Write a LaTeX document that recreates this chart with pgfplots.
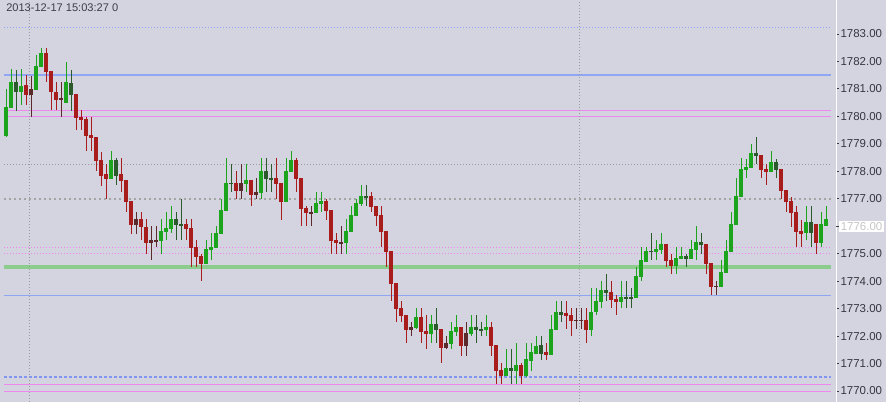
\documentclass[border=0pt]{standalone}
\usepackage{fontspec}
\setmainfont{Liberation Sans}
\usepackage{pgfplots}
\usepackage{pgfplotstable}
\pgfplotsset{compat=1.18}

\definecolor{bg}{HTML}{D4D4E0}
\definecolor{up}{HTML}{1CA51C}
\definecolor{dn}{HTML}{A81C1C}
\definecolor{upd}{HTML}{2B5B2B}
\definecolor{dnd}{HTML}{5C2A2A}
\definecolor{lvblue}{HTML}{8FA6F2}
\definecolor{lvpink}{HTML}{EE88EE}
\definecolor{lvgreen}{HTML}{8CCC8C}
\definecolor{lvgray}{HTML}{9A9A9A}
\definecolor{txt}{HTML}{3C3C46}

% n open high low close type (0 up, 1 down, 2 dark up, 3 dark down)
\pgfplotstableread{
n o h l c t
1 1779.29 1781.00 1779.26 1780.34 0
2 1780.30 1781.72 1780.30 1781.26 0
3 1780.90 1781.72 1780.23 1781.26 2
4 1780.90 1781.72 1780.42 1781.14 0
5 1781.14 1781.50 1780.42 1780.79 1
6 1781.00 1781.50 1779.99 1780.79 3
7 1780.97 1782.23 1780.97 1781.83 0
8 1781.81 1782.49 1781.81 1782.31 0
9 1782.31 1782.49 1781.26 1781.61 1
10 1781.65 1781.65 1780.23 1780.90 1
11 1780.92 1781.25 1780.23 1780.63 1
12 1780.66 1781.25 1779.99 1780.66 3
13 1780.50 1781.98 1780.50 1781.25 0
14 1780.79 1781.72 1780.23 1781.25 2
15 1780.81 1780.81 1779.50 1779.95 1
16 1779.98 1780.23 1779.50 1779.88 1
17 1779.90 1779.98 1778.74 1779.28 1
18 1779.32 1779.98 1778.74 1779.22 1
19 1779.25 1779.25 1778.01 1778.39 1
20 1778.41 1778.74 1777.50 1777.86 1
21 1777.90 1778.26 1776.99 1777.72 1
22 1777.72 1778.74 1777.72 1778.41 0
23 1777.86 1778.48 1777.50 1778.41 2
24 1777.90 1778.48 1777.25 1777.66 1
25 1777.68 1777.68 1776.52 1776.88 1
26 1776.92 1776.92 1775.75 1776.04 1
27 1776.26 1776.52 1775.75 1776.04 3
28 1776.26 1776.52 1775.50 1775.97 1
29 1776.00 1776.26 1774.99 1775.39 1
30 1775.50 1776.01 1774.77 1775.40 3
31 1775.49 1776.01 1775.24 1775.49 3
32 1775.46 1776.26 1774.99 1775.83 0
33 1775.79 1776.52 1775.50 1775.94 0
34 1775.90 1776.74 1775.75 1776.26 0
35 1776.04 1776.52 1775.50 1776.26 2
36 1776.07 1776.99 1775.50 1776.07 2
37 1776.08 1776.26 1775.50 1775.90 1
38 1775.94 1776.26 1774.51 1775.21 1
39 1775.24 1775.50 1774.51 1774.88 1
40 1774.92 1774.99 1774.00 1774.62 1
41 1774.62 1775.50 1774.62 1775.17 0
42 1775.13 1775.75 1774.77 1775.24 0
43 1775.21 1776.01 1775.21 1775.75 0
44 1775.72 1776.99 1775.72 1776.59 0
45 1776.55 1778.48 1776.55 1777.57 0
46 1777.56 1778.27 1777.25 1777.56 2
47 1777.57 1778.01 1776.99 1777.28 1
48 1777.57 1778.27 1776.99 1777.28 3
49 1777.54 1778.27 1777.25 1777.68 0
50 1777.68 1777.68 1776.74 1777.14 1
51 1777.25 1777.76 1776.99 1777.14 3
52 1777.21 1778.48 1776.99 1778.01 0
53 1777.72 1778.48 1777.25 1778.01 2
54 1777.74 1778.27 1777.25 1777.74 2
55 1777.76 1778.48 1776.99 1777.54 1
56 1777.57 1777.57 1776.26 1776.88 1
57 1776.88 1778.48 1776.88 1778.01 0
58 1777.97 1778.74 1777.97 1778.41 0
59 1778.41 1778.48 1777.25 1777.72 1
60 1777.76 1777.76 1776.01 1776.63 1
61 1776.66 1776.74 1776.01 1776.48 1
62 1776.51 1776.74 1776.01 1776.51 3
63 1776.48 1777.25 1776.48 1776.84 0
64 1776.81 1777.25 1776.52 1776.92 0
65 1776.92 1776.99 1776.26 1776.55 1
66 1776.59 1776.59 1774.99 1775.46 1
67 1775.50 1775.75 1774.99 1775.39 1
68 1775.42 1776.01 1774.99 1775.42 3
69 1775.39 1776.26 1774.99 1775.83 0
70 1775.79 1776.74 1775.79 1776.41 0
71 1776.37 1776.99 1776.37 1776.84 0
72 1776.81 1777.50 1776.74 1777.10 0
73 1777.09 1777.50 1776.74 1777.09 2
74 1777.10 1777.25 1776.52 1776.70 1
75 1776.74 1776.74 1776.01 1776.37 1
76 1776.41 1776.74 1775.24 1775.79 1
77 1775.83 1775.83 1774.51 1775.06 1
78 1775.10 1775.10 1773.28 1773.90 1
79 1773.93 1773.93 1772.51 1772.98 1
80 1773.02 1773.28 1772.51 1772.73 1
81 1772.77 1772.77 1771.75 1772.22 1
82 1772.33 1772.51 1772.00 1772.22 3
83 1772.29 1773.02 1772.29 1772.69 0
84 1772.69 1773.02 1771.75 1772.14 1
85 1772.18 1772.77 1771.53 1772.07 1
86 1772.07 1772.77 1771.75 1772.44 0
87 1772.22 1773.02 1771.75 1772.44 2
88 1772.26 1772.26 1771.02 1771.57 1
89 1771.75 1772.00 1771.53 1771.57 3
90 1771.71 1772.51 1771.53 1772.18 0
91 1772.15 1772.77 1772.00 1772.33 0
92 1772.33 1772.33 1771.27 1771.64 1
93 1772.11 1772.51 1771.27 1771.64 3
94 1772.07 1772.77 1772.00 1772.33 0
95 1772.22 1772.77 1771.75 1772.33 2
96 1772.24 1772.51 1772.00 1772.24 2
97 1772.22 1772.77 1772.00 1772.33 0
98 1772.33 1772.51 1771.27 1771.64 1
99 1771.67 1771.67 1770.25 1770.73 1
100 1770.76 1771.02 1770.25 1770.54 1
101 1770.54 1771.53 1770.54 1770.84 0
102 1770.73 1771.53 1770.25 1770.84 2
103 1770.73 1771.75 1770.25 1770.95 0
104 1770.95 1771.02 1770.25 1770.54 1
105 1770.54 1771.75 1770.54 1771.16 0
106 1771.12 1771.75 1770.76 1771.42 0
107 1771.38 1772.00 1771.38 1771.67 0
108 1771.37 1772.00 1771.13 1771.67 2
109 1771.42 1771.75 1771.13 1771.31 1
110 1771.31 1772.77 1771.31 1772.26 0
111 1772.22 1773.28 1772.22 1772.91 0
112 1772.80 1773.28 1772.51 1772.91 2
113 1772.84 1773.28 1772.26 1772.73 1
114 1772.77 1773.02 1772.00 1772.55 1
115 1772.57 1773.02 1772.26 1772.57 3
116 1772.57 1773.02 1772.26 1772.57 3
117 1772.59 1773.02 1771.75 1772.22 1
118 1772.22 1773.75 1772.00 1772.91 0
119 1772.87 1773.75 1772.77 1773.28 0
120 1773.24 1774.00 1773.02 1773.68 0
121 1773.57 1774.26 1773.28 1773.68 2
122 1773.60 1774.00 1773.02 1773.31 1
123 1773.35 1773.50 1772.77 1773.24 1
124 1773.24 1774.00 1773.02 1773.42 0
125 1773.41 1774.00 1773.02 1773.41 2
126 1773.41 1773.75 1773.02 1773.41 2
127 1773.39 1774.51 1773.39 1774.19 0
128 1774.15 1775.24 1774.00 1774.77 0
129 1774.73 1775.24 1774.73 1775.10 0
130 1775.09 1775.75 1774.77 1775.09 2
131 1775.06 1775.50 1774.77 1775.17 0
132 1775.13 1775.75 1774.99 1775.35 0
133 1775.35 1775.35 1774.51 1774.73 1
134 1774.77 1774.99 1774.26 1774.55 1
135 1774.55 1775.24 1774.26 1774.84 0
136 1774.81 1775.24 1774.81 1774.91 0
137 1774.81 1774.99 1774.51 1774.91 2
138 1774.81 1775.50 1774.81 1775.17 0
139 1775.13 1776.01 1774.77 1775.43 0
140 1775.32 1775.75 1774.99 1775.43 2
141 1775.35 1775.35 1774.26 1774.62 1
142 1774.66 1774.66 1773.50 1773.79 1
143 1773.82 1774.00 1773.50 1773.82 3
144 1773.79 1774.77 1773.79 1774.33 0
145 1774.30 1775.50 1774.30 1775.10 0
146 1775.06 1776.52 1775.06 1776.08 0
147 1776.04 1777.76 1776.04 1777.10 0
148 1777.06 1778.48 1777.06 1778.08 0
149 1778.05 1778.48 1777.76 1778.16 0
150 1778.12 1778.99 1778.12 1778.67 0
151 1778.56 1779.25 1778.27 1778.67 2
152 1778.59 1778.59 1777.76 1778.05 1
153 1778.08 1778.27 1777.50 1777.97 1
154 1777.97 1778.74 1777.97 1778.34 0
155 1778.05 1778.48 1777.76 1778.34 2
156 1778.08 1778.08 1777.00 1777.28 1
157 1777.32 1777.32 1776.53 1776.89 1
158 1776.92 1777.08 1775.98 1776.49 1
159 1776.52 1776.74 1775.25 1775.80 1
160 1775.83 1776.26 1775.25 1775.74 1
161 1775.74 1776.74 1775.52 1776.14 0
162 1775.74 1776.74 1775.25 1776.14 2
163 1776.08 1776.08 1774.99 1775.40 1
164 1775.40 1776.52 1775.25 1776.08 0
165 1776.02 1776.74 1776.02 1776.26 0
}\candles

\pgfplotsset{
  wick/.style={draw=none, mark=none, forget plot,
    error bars/.cd, y dir=both, y explicit, error mark=none,
    error bar style={draw=#1, line width=0.75pt}},
  body/.style={draw=none, mark=none, forget plot,
    error bars/.cd, y dir=both, y explicit, error mark=none,
    error bar style={draw=#1, line width=3pt}},
}

\newcommand\candleset[2]{%
  \addplot[restrict expr to domain={\thisrow{t}}{#1:#1}, wick=#2]
    table[x=n, y expr=(\thisrow{h}+\thisrow{l})/2,
          y error expr=(\thisrow{h}-\thisrow{l})/2] {\candles};
  \addplot[restrict expr to domain={\thisrow{t}}{#1:#1}, body=#2]
    table[x=n, y expr=(\thisrow{o}+\thisrow{c})/2,
          y error expr={max(abs(\thisrow{o}-\thisrow{c})/2,0.02)}] {\candles};
}

\begin{document}
\begin{tikzpicture}
\fill[bg] (0,0) rectangle (664.5pt,301.5pt);
\begin{axis}[
  scale only axis, width=627pt, height=301.5pt,
  at={(0,0)}, anchor=south west,
  xmin=-0.2, xmax=167, ymin=1769.60, ymax=1784.24,
  axis x line=none, axis y line=right,
  y axis line style={-, draw=white, line width=0.75pt},
  axis background/.style={fill=bg},
  ytick={1770,1771,1772,1773,1774,1775,1777,1778,1779,1780,1781,1782,1783},
  extra y ticks={1776},
  extra y tick style={yticklabel style={fill=white, text=gray!45, inner sep=1.2pt}},
  tick align=outside, major tick length=2.25pt,
  ytick style={draw=txt, line width=0.75pt},
  /pgf/number format/assume math mode=true,
  yticklabel={\pgfmathprintnumber[fixed, fixed zerofill, precision=2, 1000 sep={}]{\tick}},
  yticklabel style={font=\fontsize{8.6}{10}\selectfont, text=txt!90!black, anchor=west, inner sep=1pt},
]
% level lines
\addplot[lvblue, line width=0.75pt, dash pattern=on 0.75pt off 1.5pt] coordinates {(0.6,1783.24) (166,1783.24)};
\addplot[lvblue, line width=1.5pt] coordinates {(0.6,1781.51) (166,1781.51)};
\addplot[lvpink, line width=0.75pt] coordinates {(1,1780.23) (166,1780.23)};
\addplot[lvpink, line width=0.75pt] coordinates {(1,1779.99) (166,1779.99)};
\addplot[lvgray, line width=0.75pt, dash pattern=on 0.75pt off 1.5pt] coordinates {(0.6,1778.25) (166,1778.25)};
\addplot[lvgray!90, line width=1.5pt, dash pattern=on 1.5pt off 2.25pt] coordinates {(0.6,1777.00) (166,1777.00)};
\addplot[lvpink, line width=0.75pt, dash pattern=on 0.75pt off 1.5pt] coordinates {(0.6,1775.24) (166,1775.24)};
\addplot[lvpink, line width=0.75pt, dash pattern=on 0.75pt off 1.5pt] coordinates {(0.6,1774.99) (166,1774.99)};
\addplot[lvgreen, line width=3pt] coordinates {(0.6,1774.51) (166,1774.51)};
\addplot[lvblue, line width=0.75pt] coordinates {(0.6,1773.48) (166,1773.48)};
\addplot[lvblue!90!blue, line width=1.9pt, dash pattern=on 1.9pt off 1.85pt] coordinates {(0.6,1770.51) (166,1770.51)};
\addplot[lvpink, line width=0.75pt] coordinates {(0.6,1770.25) (166,1770.25)};
\addplot[lvpink, line width=0.75pt] coordinates {(0.6,1769.99) (166,1769.99)};
\addplot[lvgray, line width=0.75pt, dash pattern=on 0.75pt off 1.5pt] coordinates {(5.6,1769.6) (5.6,1784.24)};
\addplot[lvgray, line width=0.75pt, dash pattern=on 0.75pt off 1.5pt] coordinates {(115.7,1769.6) (115.7,1784.24)};
% candles
\candleset{0}{up}
\candleset{1}{dn}
\candleset{2}{upd}
\candleset{3}{dnd}
\end{axis}
\node[anchor=west, inner sep=0pt, text=txt, font=\fontsize{8.3}{10}\selectfont] at (4.5pt,296pt) {2013-12-17 15:03:27 0};
\pgfresetboundingbox
\path (0,0) rectangle (664.5pt,301.5pt);
\end{tikzpicture}
\end{document}
